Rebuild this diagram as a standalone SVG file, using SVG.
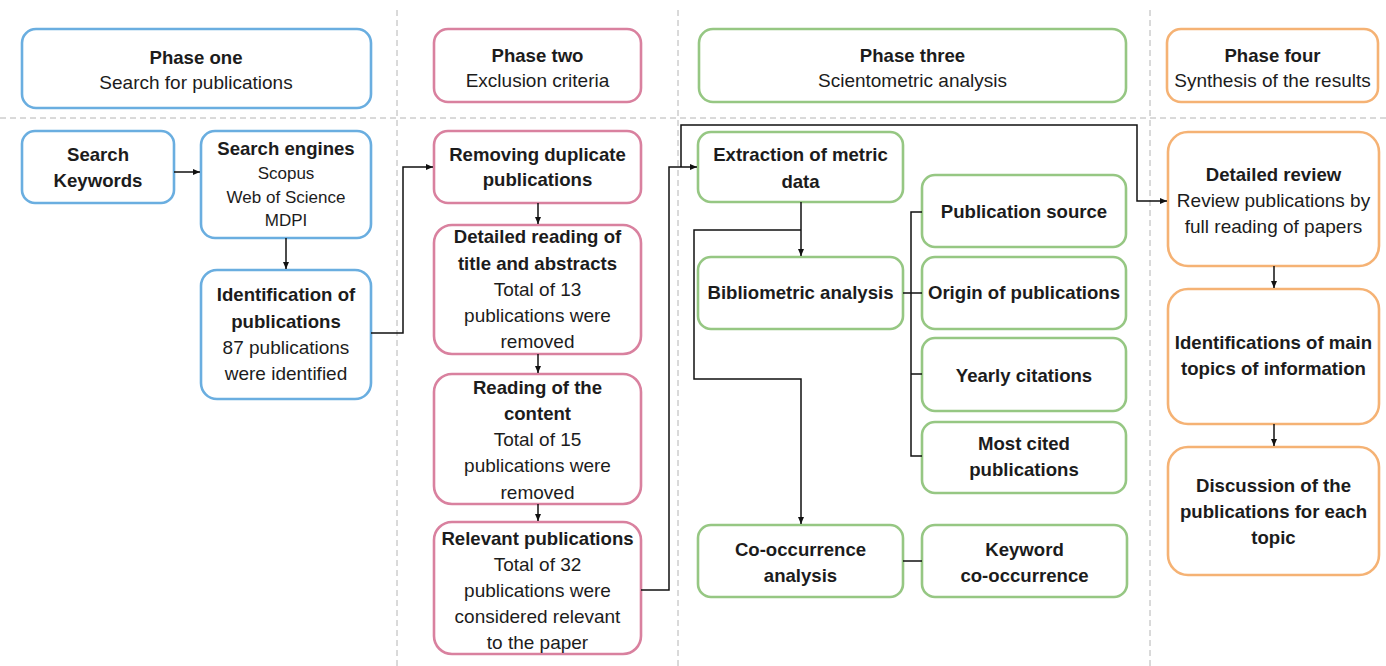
<svg xmlns="http://www.w3.org/2000/svg" width="1386" height="666" viewBox="0 0 1386 666">
<defs>
<marker id="ah" markerWidth="8" markerHeight="8" refX="7" refY="4" orient="auto" markerUnits="userSpaceOnUse">
<path d="M0,1 L7,4 L0,7 Z" fill="#111"/>
</marker>
<style>
.bg{fill:#fff}
.guide{stroke:#b4b4b4;stroke-width:1;stroke-dasharray:6 4;fill:none}
.box{fill:#fff;stroke-width:2.6}
.blue{stroke:#6aaee0}
.pink{stroke:#d9819f}
.green{stroke:#96c783}
.orange{stroke:#f5b274}
text{font-family:"Liberation Sans",Arial,sans-serif;font-size:19px;fill:#1c1c1c;text-anchor:middle}
.b{font-weight:bold;font-size:18.6px}
.s{font-size:17px}
.con{stroke:#111;stroke-width:1.5;fill:none}
</style>
</defs>
<rect class="bg" x="0" y="0" width="1386" height="666"/>
<g id="guides">
<line class="guide" x1="0" y1="118" x2="1386" y2="118"/>
<line class="guide" x1="397" y1="10" x2="397" y2="666"/>
<line class="guide" x1="678" y1="10" x2="678" y2="666"/>
<line class="guide" x1="1150" y1="10" x2="1150" y2="666"/>
</g>
<g id="phase-one-header">
<rect class="box blue" x="22" y="29" width="349" height="79" rx="14"/>
<text class="b" x="196" y="64">Phase one</text>
<text x="196" y="89">Search for publications</text>
</g>
<g id="phase-two-header">
<rect class="box pink" x="434" y="29" width="207" height="73" rx="14"/>
<text class="b" x="537.5" y="62">Phase two</text>
<text x="537.5" y="87">Exclusion criteria</text>
</g>
<g id="phase-three-header">
<rect class="box green" x="699" y="29" width="427" height="73" rx="14"/>
<text class="b" x="912.5" y="62">Phase three</text>
<text x="912.5" y="87">Scientometric analysis</text>
</g>
<g id="phase-four-header">
<rect class="box orange" x="1167" y="29" width="211" height="73" rx="14"/>
<text class="b" x="1272.5" y="62">Phase four</text>
<text x="1272.5" y="87">Synthesis of the results</text>
</g>
<g id="search-keywords">
<rect class="box blue" x="22" y="131" width="152" height="72" rx="13"/>
<text class="b" x="98" y="161">Search</text>
<text class="b" x="98" y="187">Keywords</text>
</g>
<g id="search-engines">
<rect class="box blue" x="201" y="131" width="170" height="107" rx="14"/>
<text class="b" x="286" y="155">Search engines</text>
<text class="s" x="286" y="179">Scopus</text>
<text class="s" x="286" y="203">Web of Science</text>
<text class="s" x="286" y="226">MDPI</text>
</g>
<g id="identification">
<rect class="box blue" x="201" y="270" width="170" height="129" rx="16"/>
<text class="b" x="286" y="301">Identification of</text>
<text class="b" x="286" y="328">publications</text>
<text x="286" y="354">87 publications</text>
<text x="286" y="380">were identified</text>
</g>
<g id="removing-duplicates">
<rect class="box pink" x="434" y="131" width="207" height="72" rx="14"/>
<text class="b" x="537.5" y="161">Removing duplicate</text>
<text class="b" x="537.5" y="186">publications</text>
</g>
<g id="detailed-reading">
<rect class="box pink" x="434" y="225" width="207" height="129" rx="18"/>
<text class="b" x="537.5" y="243">Detailed reading of</text>
<text class="b" x="537.5" y="270">title and abstracts</text>
<text x="537.5" y="296">Total of 13</text>
<text x="537.5" y="322">publications were</text>
<text x="537.5" y="348">removed</text>
</g>
<g id="reading-content">
<rect class="box pink" x="434" y="374" width="207" height="130" rx="18"/>
<text class="b" x="537.5" y="394">Reading of the</text>
<text class="b" x="537.5" y="420">content</text>
<text x="537.5" y="446">Total of 15</text>
<text x="537.5" y="472">publications were</text>
<text x="537.5" y="499">removed</text>
</g>
<g id="relevant-publications">
<rect class="box pink" x="434" y="522" width="207" height="132" rx="18"/>
<text class="b" x="537.5" y="545">Relevant publications</text>
<text x="537.5" y="571">Total of 32</text>
<text x="537.5" y="597">publications were</text>
<text x="537.5" y="623">considered relevant</text>
<text x="537.5" y="649">to the paper</text>
</g>
<g id="extraction">
<rect class="box green" x="698" y="132" width="205" height="70" rx="13"/>
<text class="b" x="800.5" y="161">Extraction of metric</text>
<text class="b" x="800.5" y="188">data</text>
</g>
<g id="bibliometric">
<rect class="box green" x="698" y="257" width="205" height="72" rx="13"/>
<text class="b" x="800.5" y="299">Bibliometric analysis</text>
</g>
<g id="publication-source">
<rect class="box green" x="922" y="175" width="204" height="72" rx="13"/>
<text class="b" x="1024" y="218">Publication source</text>
</g>
<g id="origin">
<rect class="box green" x="922" y="257" width="204" height="72" rx="13"/>
<text class="b" x="1024" y="299">Origin of publications</text>
</g>
<g id="yearly-citations">
<rect class="box green" x="922" y="338" width="204" height="73" rx="13"/>
<text class="b" x="1024" y="382">Yearly citations</text>
</g>
<g id="most-cited">
<rect class="box green" x="922" y="422" width="204" height="71" rx="13"/>
<text class="b" x="1024" y="450">Most cited</text>
<text class="b" x="1024" y="476">publications</text>
</g>
<g id="co-occurrence">
<rect class="box green" x="698" y="525" width="205" height="72" rx="13"/>
<text class="b" x="800.5" y="556">Co-occurrence</text>
<text class="b" x="800.5" y="582">analysis</text>
</g>
<g id="keyword-co-occurrence">
<rect class="box green" x="922" y="525" width="205" height="72" rx="13"/>
<text class="b" x="1024.5" y="556">Keyword</text>
<text class="b" x="1024.5" y="582">co-occurrence</text>
</g>
<g id="detailed-review">
<rect class="box orange" x="1168" y="132" width="211" height="134" rx="20"/>
<text class="b" x="1273.5" y="181">Detailed review</text>
<text x="1273.5" y="207">Review publications by</text>
<text x="1273.5" y="233">full reading of papers</text>
</g>
<g id="main-topics">
<rect class="box orange" x="1168" y="289" width="211" height="135" rx="20"/>
<text class="b" x="1273.5" y="349">Identifications of main</text>
<text class="b" x="1273.5" y="375">topics of information</text>
</g>
<g id="discussion">
<rect class="box orange" x="1168" y="447" width="211" height="128" rx="20"/>
<text class="b" x="1273.5" y="492">Discussion of the</text>
<text class="b" x="1273.5" y="518">publications for each</text>
<text class="b" x="1273.5" y="544">topic</text>
</g>
<g id="connectors">
<line class="con" x1="174" y1="172" x2="200" y2="172" marker-end="url(#ah)"/>
<line class="con" x1="286" y1="238" x2="286" y2="269" marker-end="url(#ah)"/>
<polyline class="con" points="371,333 403,333 403,167 433,167" marker-end="url(#ah)"/>
<line class="con" x1="538" y1="203" x2="538" y2="224" marker-end="url(#ah)"/>
<line class="con" x1="538" y1="354" x2="538" y2="373" marker-end="url(#ah)"/>
<line class="con" x1="538" y1="504" x2="538" y2="521" marker-end="url(#ah)"/>
<polyline class="con" points="641,590 669,590 669,167 697,167" marker-end="url(#ah)"/>
<polyline class="con" points="681,167 681,125 1137,125 1137,201 1167,201" marker-end="url(#ah)"/>
<line class="con" x1="801" y1="202" x2="801" y2="256" marker-end="url(#ah)"/>
<polyline class="con" points="801,230 694,230 694,379 801,379 801,524" marker-end="url(#ah)"/>
<line class="con" x1="903" y1="293" x2="922" y2="293"/>
<polyline class="con" points="922,212 911,212 911,456 922,456"/>
<line class="con" x1="911" y1="374" x2="922" y2="374"/>
<line class="con" x1="903" y1="561" x2="922" y2="561"/>
<line class="con" x1="1274" y1="266" x2="1274" y2="288" marker-end="url(#ah)"/>
<line class="con" x1="1274" y1="424" x2="1274" y2="446" marker-end="url(#ah)"/>
</g>
</svg>
